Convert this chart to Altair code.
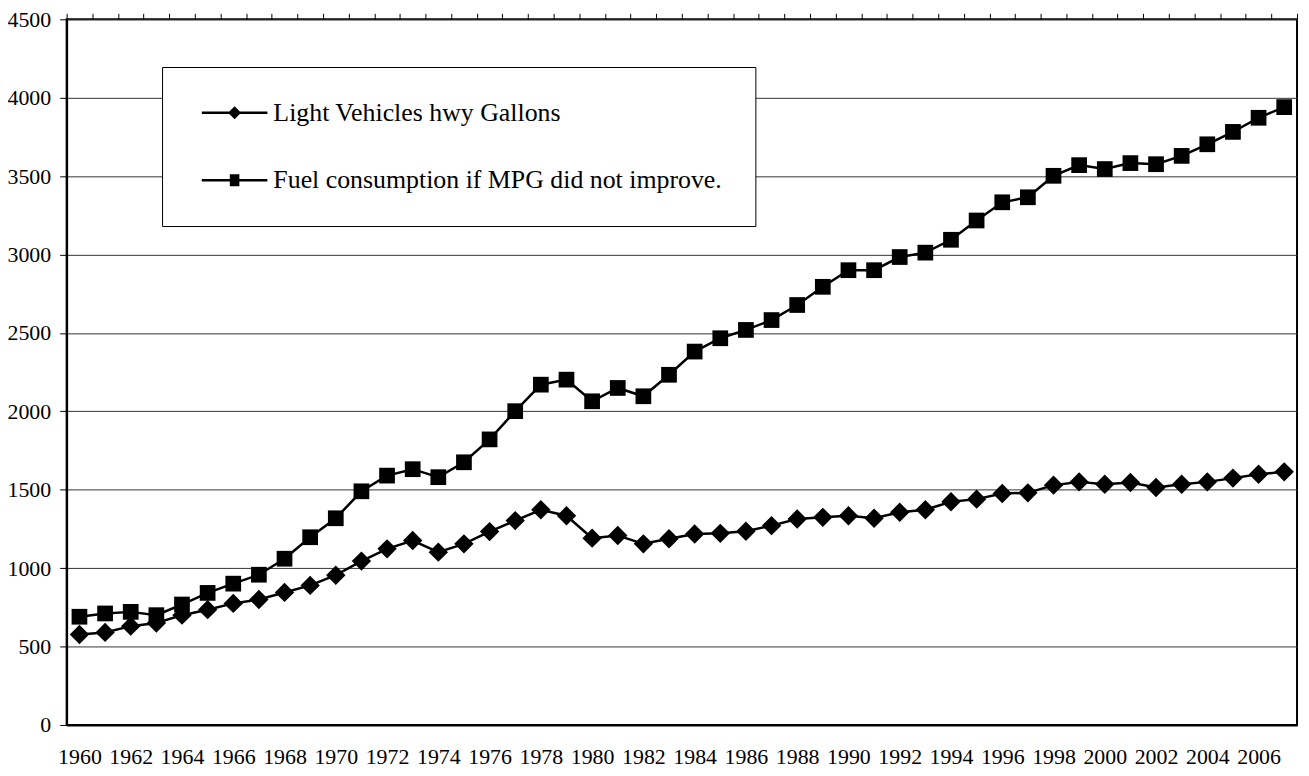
import altair as alt
import pandas as pd

years = list(range(1960, 2008))
light_vehicles = [577, 590, 630, 650, 700, 735, 775, 800, 845, 890,
                  955, 1045, 1123, 1176, 1102, 1155, 1233, 1303, 1372, 1334,
                  1191, 1208, 1155, 1187, 1218, 1222, 1235, 1271, 1313, 1324,
                  1334, 1318, 1356, 1372, 1423, 1440, 1476, 1480, 1529, 1550,
                  1535, 1546, 1514, 1535, 1550, 1574, 1599, 1614]
fuel_if_no_mpg = [690, 711, 721, 700, 768, 842, 901, 958, 1060, 1197,
                  1318, 1490, 1590, 1631, 1580, 1675, 1821, 2001, 2170, 2202,
                  2064, 2149, 2096, 2233, 2381, 2466, 2519, 2582, 2678, 2794,
                  2900, 2900, 2984, 3012, 3094, 3217, 3333, 3365, 3502, 3570,
                  3545, 3583, 3576, 3629, 3703, 3782, 3872, 3940]
series_names = ["Light Vehicles hwy Gallons", "Fuel consumption if MPG did not improve."]
y_ticks = list(range(0, 4501, 500))
x_label_years = list(range(1960, 2007, 2))
x_tick_bounds = [y - 0.5 for y in years] + [years[-1] + 0.5]

df = pd.DataFrame({
    "year": years + years,
    "value": light_vehicles + fuel_if_no_mpg,
    "series": [series_names[0]] * len(years) + [series_names[1]] * len(years),
})

FONT = "Liberation Serif"
x_scale = alt.Scale(domain=[years[0] - 0.5, years[-1] + 0.5], nice=False, zero=False)
y_scale = alt.Scale(domain=[0, 4500], nice=False)

lines = alt.Chart(df).mark_line(color="black", strokeWidth=2.5).encode(
    x=alt.X("year:Q", scale=x_scale, title=None,
            axis=alt.Axis(values=x_label_years, format="d", tickSize=0, labelPadding=22,
                          grid=False, domain=True, domainColor="black", domainWidth=2,
                          labelFlush=False, labelOverlap=False)),
    y=alt.Y("value:Q", scale=y_scale, title=None,
            axis=alt.Axis(values=y_ticks, format="d", tickSize=7, tickColor="black",
                          labelPadding=9, grid=True, gridColor="#333", gridWidth=1,
                          domain=True, domainColor="black", domainWidth=2)),
    detail="series:N",
)

points = alt.Chart(df).mark_point(filled=True, color="black", opacity=1).encode(
    x=alt.X("year:Q", scale=x_scale, title=None,
            axis=alt.Axis(values=x_tick_bounds, labels=False, tickSize=6, tickColor="black",
                          tickWidth=1, domain=False, grid=False)),
    y=alt.Y("value:Q", scale=y_scale, axis=None),
    shape=alt.Shape("series:N", scale=alt.Scale(domain=series_names, range=["diamond", "square"]),
                    legend=None),
    size=alt.Size("series:N", scale=alt.Scale(domain=series_names, range=[380, 250]), legend=None),
)

legend_paths = ["M-1,-0.2H10V0.2H-1Z M4.5,-1.1L5.6,0L4.5,1.1L3.4,0Z",
                "M-1,-0.2H10V0.2H-1Z M3.7,-1H5.3V1H3.7Z"]

legend_layer = alt.Chart(df).mark_point(filled=True, fill="black", opacity=0).encode(
    x=alt.X("year:Q", scale=x_scale, axis=None),
    y=alt.Y("value:Q", scale=y_scale, axis=None),
    shape=alt.Shape("series:N",
                    scale=alt.Scale(domain=series_names, range=legend_paths),
                    legend=alt.Legend(orient="none", legendX=96, legendY=48, title=None,
                                      direction="vertical", padding=33, rowPadding=42,
                                      labelFont=FONT, labelFontSize=26, labelColor="black",
                                      labelOffset=53, labelLimit=800,
                                      symbolSize=144, symbolStrokeWidth=0,
                                      symbolFillColor="black", symbolStrokeColor="black",
                                      symbolOpacity=1, strokeColor="black", fillColor="white")),
)

chart = alt.layer(lines, points, legend_layer).resolve_axis(
    x="independent", y="independent"
).resolve_scale(shape="independent", size="independent").properties(
    width=1238, height=710,
    autosize=alt.AutoSizeParams(type="none"),
    padding={"left": 59, "top": 9, "right": 4, "bottom": 49},
).configure_view(stroke="black", strokeWidth=2).configure_axis(
    labelFont=FONT, labelFontSize=22, labelColor="black"
)

chart.save("out.html", embed_options={"renderer": "svg", "actions": False})
